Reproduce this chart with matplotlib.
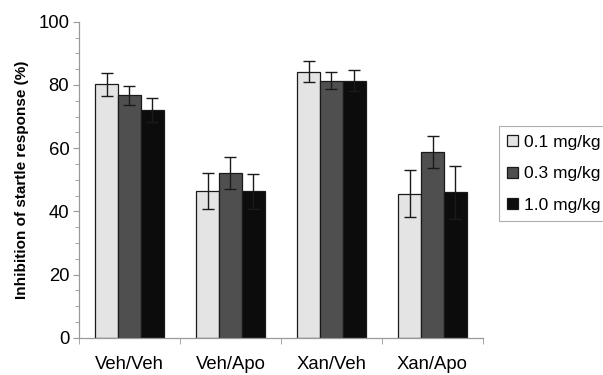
import matplotlib.pyplot as plt
import numpy as np

plt.rcParams['font.family'] = ['Liberation Sans', 'DejaVu Sans']

groups = ['Veh/Veh', 'Veh/Apo', 'Xan/Veh', 'Xan/Apo']
doses = ['0.1 mg/kg', '0.3 mg/kg', '1.0 mg/kg']
means = [
    [80.2, 46.5, 84.2, 45.6],   # 0.1 mg/kg
    [76.8, 52.2, 81.3, 58.8],   # 0.3 mg/kg
    [72.0, 46.4, 81.3, 46.0],   # 1.0 mg/kg
]
errs = [
    [3.7, 5.8, 3.4, 7.5],
    [3.0, 5.0, 2.7, 5.2],
    [3.8, 5.5, 3.3, 8.3],
]
colors = ['#e4e4e4', '#4f4f4f', '#0c0c0c']

fig = plt.figure(figsize=(6.03, 3.75), dpi=100)
ax = fig.add_axes([0.131, 0.099, 0.670, 0.843])

x = np.arange(len(groups))
w = 0.225
for i in range(len(doses)):
    ax.bar(x + (i - 1) * w, means[i], w, color=colors[i], edgecolor='#1a1a1a',
           linewidth=0.9, label=doses[i], zorder=2)
    ax.errorbar(x + (i - 1) * w, means[i], yerr=errs[i], fmt='none',
                ecolor='#1a1a1a', elinewidth=1.0, capsize=4.3, capthick=1.0, zorder=3)

ax.set_xlim(-0.5, 3.5)
ax.set_ylim(0, 100)
ax.set_yticks([0, 20, 40, 60, 80, 100])
ax.set_yticks(np.arange(0, 101, 5), minor=True)
ax.set_xticks(x)
ax.set_xticklabels(groups)
ax.set_xticks(np.arange(-0.5, 4, 1), minor=True)
ax.tick_params(axis='x', which='major', length=0, labelsize=13.3, pad=13)
ax.tick_params(axis='x', which='minor', length=4, color='#999999')
ax.tick_params(axis='y', which='both', length=4, color='#999999', labelsize=13.3, pad=3)
ax.tick_params(axis='y', which='minor', length=3)

for s in ['top', 'right']:
    ax.spines[s].set_visible(False)
for s in ['left', 'bottom']:
    ax.spines[s].set_color('#999999')
    ax.spines[s].set_linewidth(0.9)

ax.set_ylabel('Inhibition of startle response (%)', fontsize=11,
              fontweight='bold', labelpad=7)

leg = fig.legend(loc='upper left', bbox_to_anchor=(0.827, 0.664), fontsize=12.5,
                 frameon=True, fancybox=False, edgecolor='#999999',
                 handlelength=0.6, handleheight=0.6, handletextpad=0.35,
                 labelspacing=0.95, borderpad=0.5, borderaxespad=0)
leg.get_frame().set_linewidth(0.8)

fig.savefig('out.png', dpi=100)
